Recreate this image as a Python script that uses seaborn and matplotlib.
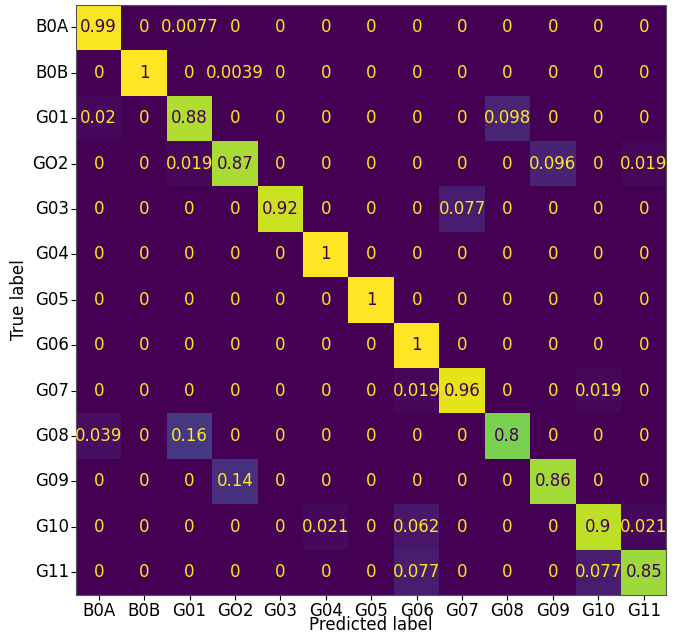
import numpy as np
import pandas as pd
import matplotlib
matplotlib.use("Agg")
import matplotlib.pyplot as plt
import seaborn as sns

# class labels (as printed on the axes)
labels = ["B0A", "B0B", "G01", "GO2", "G03", "G04", "G05",
          "G06", "G07", "G08", "G09", "G10", "G11"]

# normalised confusion matrix, one list per true label
row_b0a = [0.99, 0, 0.0077, 0, 0, 0, 0, 0, 0, 0, 0, 0, 0]
row_b0b = [0, 1, 0, 0.0039, 0, 0, 0, 0, 0, 0, 0, 0, 0]
row_g01 = [0.02, 0, 0.88, 0, 0, 0, 0, 0, 0, 0.098, 0, 0, 0]
row_g02 = [0, 0, 0.019, 0.87, 0, 0, 0, 0, 0, 0, 0.096, 0, 0.019]
row_g03 = [0, 0, 0, 0, 0.92, 0, 0, 0, 0.077, 0, 0, 0, 0]
row_g04 = [0, 0, 0, 0, 0, 1, 0, 0, 0, 0, 0, 0, 0]
row_g05 = [0, 0, 0, 0, 0, 0, 1, 0, 0, 0, 0, 0, 0]
row_g06 = [0, 0, 0, 0, 0, 0, 0, 1, 0, 0, 0, 0, 0]
row_g07 = [0, 0, 0, 0, 0, 0, 0, 0.019, 0.96, 0, 0, 0.019, 0]
row_g08 = [0.039, 0, 0.16, 0, 0, 0, 0, 0, 0, 0.8, 0, 0, 0]
row_g09 = [0, 0, 0, 0.14, 0, 0, 0, 0, 0, 0, 0.86, 0, 0]
row_g10 = [0, 0, 0, 0, 0, 0.021, 0, 0.062, 0, 0, 0, 0.9, 0.021]
row_g11 = [0, 0, 0, 0, 0, 0, 0, 0.077, 0, 0, 0, 0.077, 0.85]

cm = pd.DataFrame(
    [row_b0a, row_b0b, row_g01, row_g02, row_g03, row_g04, row_g05,
     row_g06, row_g07, row_g08, row_g09, row_g10, row_g11],
    index=labels, columns=labels)

fig = plt.figure(figsize=(6.78, 6.34), dpi=100)
ax = fig.add_axes([0.112, 0.0615, 0.871, 0.931])

sns.heatmap(cm, ax=ax, cmap="viridis", vmin=0, vmax=1, cbar=False,
            annot=True, fmt=".2g", annot_kws={"fontsize": 12},
            square=False)

# sklearn-style text colours: dark text on bright cells, yellow elsewhere
cmap = plt.get_cmap("viridis")
thresh = (cm.values.max() + cm.values.min()) / 2.0
for txt, val in zip(ax.texts, cm.values.flatten()):
    txt.set_color(cmap(0.0) if val >= thresh else cmap(1.0))

for s in ax.spines.values():
    s.set_visible(True)
    s.set_linewidth(0.8)
    s.set_color("#555555")

ax.tick_params(axis="both", labelsize=12, length=3.5, width=0.8, pad=1.5)
ax.set_yticklabels(labels, rotation=0)
ax.set_xticklabels(labels, rotation=0)
ax.set_xlabel("Predicted label", fontsize=12, labelpad=-3)
ax.set_ylabel("True label", fontsize=12, labelpad=3)

fig.savefig("out.png", dpi=100)
